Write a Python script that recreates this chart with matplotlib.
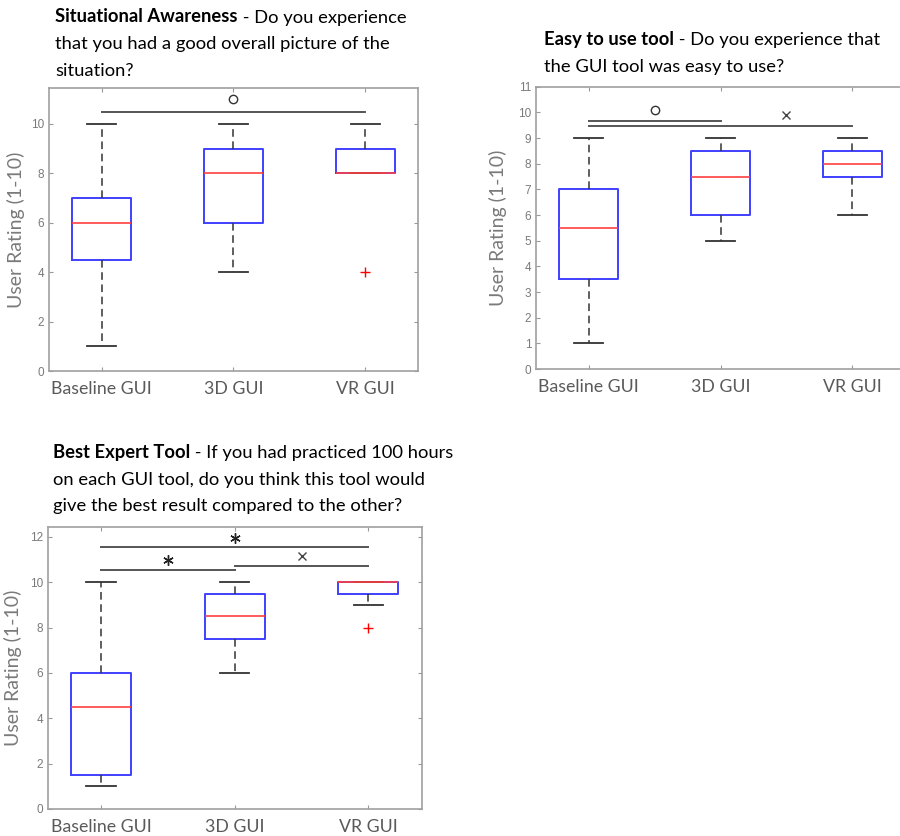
import matplotlib
matplotlib.use('Agg')
import matplotlib.pyplot as plt

groups = ['Baseline GUI', '3D GUI', 'VR GUI']
positions = [1, 2, 3]

# Situational Awareness
sa_whislo = [1, 4, 8]
sa_q1 = [4.5, 6, 8]
sa_med = [6, 8, 8]
sa_q3 = [7, 9, 9]
sa_whishi = [10, 10, 10]
sa_fliers = [[], [], [4]]
sa_sig_pairs = [(1, 3)]
sa_sig_y = [10.5]
sa_sig_mark = ['o']
sa_sig_mark_x = [2.0]
sa_sig_mark_y = [11.0]

# Easy to use tool
eu_whislo = [1, 5, 6]
eu_q1 = [3.5, 6, 7.5]
eu_med = [5.5, 7.5, 8]
eu_q3 = [7, 8.5, 8.5]
eu_whishi = [9, 9, 9]
eu_fliers = [[], [], []]
eu_sig_pairs = [(1, 2), (1, 3)]
eu_sig_y = [9.65, 9.45]
eu_sig_mark = ['o', 'x']
eu_sig_mark_x = [1.5, 2.5]
eu_sig_mark_y = [10.1, 9.9]

# Best Expert Tool
be_whislo = [1, 6, 9]
be_q1 = [1.5, 7.5, 9.5]
be_med = [4.5, 8.5, 10]
be_q3 = [6, 9.5, 10]
be_whishi = [10, 10, 10]
be_fliers = [[], [], [8]]
be_sig_pairs = [(1, 3), (1, 2), (2, 3)]
be_sig_y = [11.55, 10.55, 10.7]
be_sig_mark = ['*', '*', 'x']
be_sig_mark_x = [2.0, 1.5, 2.5]
be_sig_mark_y = [11.95, 11.0, 11.15]

TITLE_FONT = ['Lato', 'DejaVu Sans']
GRAY = '#7a7a7a'
TSIZE = 13.2

fig = plt.figure(figsize=(9, 8.36), dpi=100)


def px(x, y):
    # pixel position -> figure fraction
    return x / 900, 1 - y / 836


def add_title(x, baselines, bold, first, rest):
    fx, fy = px(x, baselines[0])
    t = fig.text(fx, fy, bold, fontweight='bold', fontsize=TSIZE,
                 family=TITLE_FONT, va='baseline', ha='left')
    fig.add_artist(plt.Annotation(first, xy=(1, 0), xycoords=t, va='bottom',
                                  ha='left', fontsize=TSIZE, family=TITLE_FONT))
    for line, b in zip(rest, baselines[1:]):
        fx, fy = px(x, b)
        fig.text(fx, fy, line, fontsize=TSIZE, family=TITLE_FONT,
                 va='baseline', ha='left')


markers = {'o': dict(marker='o', markersize=6, mfc='none', mec='#333333', mew=1.0),
           'x': dict(marker='x', markersize=5.5, mec='#444444', mew=1.0),
           '*': dict(marker=(6, 2, 0), markersize=7.5, mec='#222222', mew=1.0)}


def draw(ax, lo, q1, med, q3, hi, fliers, pairs, sig_y, sig_mark, sig_mark_x,
         sig_mark_y, ymax, yticks, ylabel_x):
    stats = [dict(whislo=a, q1=b, med=c, q3=d, whishi=e, fliers=f)
             for a, b, c, d, e, f in zip(lo, q1, med, q3, hi, fliers)]
    ax.bxp(stats, positions=positions, widths=0.45, capwidths=0.22,
           boxprops=dict(color='#4040ff', lw=1.4),
           medianprops=dict(color='#ff4040', lw=1.2),
           whiskerprops=dict(color='#333333', lw=1.1, linestyle=(0, (5, 3))),
           capprops=dict(color='#333333', lw=1.3),
           flierprops=dict(marker='+', markeredgecolor='red', markersize=7,
                           linestyle='none', mew=1.0))
    for (a, b), y in zip(pairs, sig_y):
        ax.plot([a, b], [y, y], color='#555555', lw=1.4)
    for m, mx, my in zip(sig_mark, sig_mark_x, sig_mark_y):
        ax.plot([mx], [my], linestyle='none', **markers[m])
    ax.set_xlim(0.6, 3.4)
    ax.set_ylim(0, ymax)
    ax.set_yticks(yticks)
    ax.set_xticks(positions)
    ax.tick_params(direction='in', length=3, top=True, right=True,
                   color='#999999', labelcolor=GRAY, labelsize=8.5)
    ax.set_xticklabels(groups, family=TITLE_FONT)
    ax.tick_params(axis='x', pad=7.5, labelsize=12.8, labelcolor='#5a5a5a')
    for lab in ax.get_yticklabels():
        lab.set_family('Liberation Sans')
    for s in ax.spines.values():
        s.set_color('#a0a0a0')
        s.set_linewidth(1.2)
    ax.set_ylabel('User Rating (1-10)', fontsize=14, color=GRAY, family=TITLE_FONT)
    ax.yaxis.set_label_coords(ylabel_x, 0.5)


ax1 = fig.add_axes([0.0544, 0.5562, 0.41, 0.3385])
draw(ax1, sa_whislo, sa_q1, sa_med, sa_q3, sa_whishi, sa_fliers,
     sa_sig_pairs, sa_sig_y, sa_sig_mark, sa_sig_mark_x, sa_sig_mark_y,
     11.45, range(0, 11, 2), -0.066)

ax2 = fig.add_axes([0.5956, 0.5586, 0.41, 0.3377])
draw(ax2, eu_whislo, eu_q1, eu_med, eu_q3, eu_whishi, eu_fliers,
     eu_sig_pairs, eu_sig_y, eu_sig_mark, eu_sig_mark_x, eu_sig_mark_y,
     11, range(0, 12), -0.08)

ax3 = fig.add_axes([0.053, 0.0323, 0.4156, 0.3377])
draw(ax3, be_whislo, be_q1, be_med, be_q3, be_whishi, be_fliers,
     be_sig_pairs, be_sig_y, be_sig_mark, be_sig_mark_x, be_sig_mark_y,
     12.45, range(0, 13, 2), -0.07)

add_title(55, [22.5, 49.5, 76.5], 'Situational Awareness', ' - Do you experience',
          ['that you had a good overall picture of the', 'situation?'])
add_title(544, [45, 71.7], 'Easy to use tool', ' - Do you experience that',
          ['the GUI tool was easy to use?'])
add_title(53, [458, 484.5, 511], 'Best Expert Tool', ' - If you had practiced 100 hours',
          ['on each GUI tool, do you think this tool would',
           'give the best result compared to the other?'])

fig.savefig('out.png', dpi=100)
